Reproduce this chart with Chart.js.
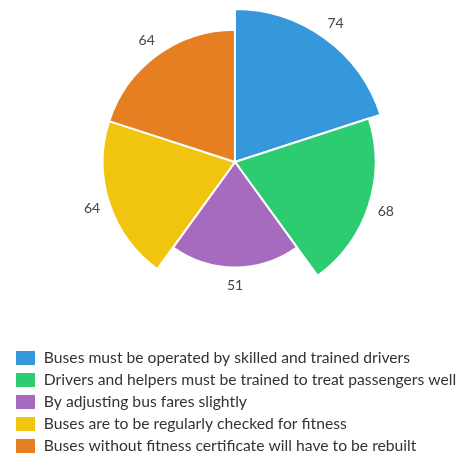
<!DOCTYPE html>
<html>
<head>
<meta charset="utf-8">
<script src="https://cdn.jsdelivr.net/npm/chart.js@4"></script>
<style>
  html, body { margin: 0; padding: 0; background: #fff; overflow: hidden; }
  #wrap { width: 461px; height: 470px; position: relative; }
</style>
</head>
<body>
<div id="wrap"><canvas id="pollChart"></canvas></div>
<script>
// Survey answers and counts
const categories = [
  'Buses must be operated by skilled and trained drivers',
  'Drivers and helpers must be trained to treat passengers well',
  'By adjusting bus fares slightly',
  'Buses are to be regularly checked for fitness',
  'Buses without fitness certificate will have to be rebuilt'
];
const counts = [74, 68, 51, 64, 64];
const colors = ['#3598db', '#2ecc71', '#a66bbe', '#f1c40f', '#e67e22'];

// Draw each value just outside its slice
const outsideLabels = {
  id: 'outsideLabels',
  afterDatasetsDraw(chart) {
    const ctx = chart.ctx;
    const meta = chart.getDatasetMeta(0);
    ctx.save();
    ctx.font = '14px Lato';
    ctx.fillStyle = '#444';
    ctx.textAlign = 'center';
    ctx.textBaseline = 'middle';
    meta.data.forEach((arc, i) => {
      const p = arc.getProps(['x', 'y', 'startAngle', 'endAngle', 'outerRadius'], true);
      const mid = (p.startAngle + p.endAngle) / 2;
      const r = p.outerRadius + 18;
      ctx.fillText(String(counts[i]), p.x + Math.cos(mid) * r, p.y + Math.sin(mid) * r);
    });
    ctx.restore();
  }
};

document.addEventListener('DOMContentLoaded', () => {
  const canvas = document.getElementById('pollChart');
  new Chart(canvas, {
    type: 'polarArea',
    data: {
      labels: categories,
      datasets: [{
        data: counts,
        backgroundColor: colors,
        borderColor: '#fff',
        borderWidth: 2
      }]
    },
    options: {
      responsive: true,
      maintainAspectRatio: false,
      animation: false,
      layout: { padding: { top: 9, left: 9, right: 0, bottom: 6 } },
      scales: {
        r: {
          min: 0,
          max: Math.max(...counts),
          ticks: { display: false },
          grid: { display: false },
          angleLines: { display: false },
          pointLabels: { display: false }
        }
      },
      plugins: {
        tooltip: { enabled: false },
        legend: {
          position: 'bottom',
          align: 'start',
          title: {
            display: true,
            text: ' ',
            font: { size: 10, lineHeight: 1 },
            padding: { top: 0, bottom: 19 }
          },
          labels: {
            boxWidth: 21,
            boxHeight: 16,
            padding: 6,
            color: '#333',
            font: { family: 'Lato', size: 15.7 }
          }
        }
      }
    },
    plugins: [outsideLabels]
  });
});
</script>
</body>
</html>
